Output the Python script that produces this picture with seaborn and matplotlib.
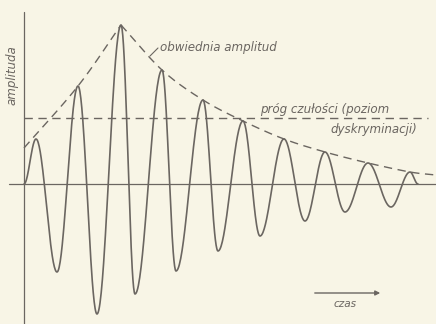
import numpy as np
import pandas as pd
import matplotlib
matplotlib.use("Agg")
import matplotlib.pyplot as plt
import seaborn as sns

# Extrema of the damped oscillation (time, amplitude)
peak_t = [1.2, 5.4, 9.7, 13.8, 17.9, 21.9, 26.0, 30.1, 34.4, 38.6]
peak_a = [4.5, 9.8, 15.9, 11.4, 8.4, 6.3, 4.5, 3.2, 2.1, 1.2]
trough_t = [3.3, 7.3, 11.1, 15.2, 19.4, 23.6, 28.1, 32.1, 36.7]
trough_a = [-8.8, -13.0, -11.0, -8.7, -6.7, -5.2, -3.7, -2.8, -2.3]
start_t, end_t = 0.0, 39.4

# Amplitude envelope: rising and decaying branches
env_rise_t = [0.0, 5.4, 9.7]
env_rise_a = [3.6, 9.8, 15.9]
env_fall_t = [9.7, 13.8, 17.9, 21.9, 26.0, 30.1, 34.4, 38.6, 41.2]
env_fall_a = [15.9, 11.4, 8.4, 6.3, 4.5, 3.2, 2.1, 1.2, 0.9]

# Sensitivity threshold (discrimination level)
threshold = 6.6

INK = "#6b6661"
PAPER = "#f8f5e6"


def wave_through(knots_t, knots_a, n=40):
    """Half-cosine segments joining successive extrema."""
    ts, as_ = [], []
    for (t0, a0), (t1, a1) in zip(zip(knots_t[:-1], knots_a[:-1]),
                                  zip(knots_t[1:], knots_a[1:])):
        u = np.linspace(0, 1, n, endpoint=False)
        ts.append(t0 + (t1 - t0) * u)
        as_.append(a0 + (a1 - a0) * (1 - np.cos(np.pi * u)) / 2)
    ts.append([knots_t[-1]])
    as_.append([knots_a[-1]])
    return np.concatenate(ts), np.concatenate(as_)


def catmull_rom(xs, ys, n=30):
    p = np.column_stack([xs, ys]).astype(float)
    p = np.vstack([2 * p[0] - p[1], p, 2 * p[-1] - p[-2]])
    out = []
    for i in range(1, len(p) - 2):
        p0, p1, p2, p3 = p[i - 1], p[i], p[i + 1], p[i + 2]
        u = np.linspace(0, 1, n, endpoint=False)[:, None]
        out.append(0.5 * ((2 * p1) + (-p0 + p2) * u
                          + (2 * p0 - 5 * p1 + 4 * p2 - p3) * u ** 2
                          + (-p0 + 3 * p1 - 3 * p2 + p3) * u ** 3))
    out.append(p[-2][None, :])
    out = np.vstack(out)
    return out[:, 0], out[:, 1]


# Ordered knots: start, alternating peaks and troughs, end
knots_t = [start_t]
knots_a = [0.0]
for i in range(len(peak_t)):
    knots_t.append(peak_t[i]); knots_a.append(peak_a[i])
    if i < len(trough_t):
        knots_t.append(trough_t[i]); knots_a.append(trough_a[i])
knots_t.append(end_t); knots_a.append(0.0)

wt, wa = wave_through(knots_t, knots_a)
signal = pd.DataFrame({"czas": wt, "amplituda": wa})

rt, ra = catmull_rom(env_rise_t, env_rise_a)
ft, fa = catmull_rom(env_fall_t, env_fall_a)
env_rise = pd.DataFrame({"czas": rt, "amplituda": ra})
env_fall = pd.DataFrame({"czas": ft, "amplituda": fa})

sns.set_style("white")
plt.rcParams["font.family"] = ["DejaVu Sans"]

fig = plt.figure(figsize=(4.36, 3.24), dpi=100, facecolor=PAPER)
ax = fig.add_axes([0, 0, 1, 1])
ax.set_facecolor(PAPER)
ax.set_xlim(-2.4, 41.2)
ax.set_ylim(-14.0, 18.4)
ax.axis("off")

# Axes of the diagram
ax.plot([0, 0], [17.2, -14.0], color=INK, lw=0.9)
ax.plot([-1.5, 41.2], [0, 0], color=INK, lw=0.9)

# Signal
sns.lineplot(data=signal, x="czas", y="amplituda", sort=False,
             color=INK, lw=1.2, ax=ax)

# Envelope
for env in (env_rise, env_fall):
    sns.lineplot(data=env, x="czas", y="amplituda", sort=False,
                 color=INK, lw=1.0, ax=ax, dashes=False,
                 linestyle=(0, (6, 4)))

# Threshold
ax.plot([0, 40.4], [threshold, threshold], color=INK, lw=1.0,
        linestyle=(0, (6, 4)))

txt = dict(color=INK, fontsize=8.6, style="italic")
ax.text(-1.2, 10.9, "amplituda", rotation=90, ha="center", va="center", **txt)
ax.text(13.6, 13.6, "obwiednia amplitud", ha="left", va="center", **txt)
ax.plot([12.6, 13.4], [12.8, 13.6], color=INK, lw=0.8)
ax.text(23.6, 7.4, "próg czułości (poziom", ha="left", va="center", **txt)
ax.text(30.6, 5.5, "dyskryminacji)", ha="left", va="center", **txt)

ax.annotate("", xy=(35.9, -10.9), xytext=(28.8, -10.9),
            arrowprops=dict(arrowstyle="-|>", color=INK, lw=1.0,
                            mutation_scale=7))
ax.text(32.1, -12.0, "czas", ha="center", va="center",
        color=INK, fontsize=7.6, style="italic")

ax.set_xlabel("")
ax.set_ylabel("")
fig.savefig("out.png", dpi=100, facecolor=PAPER)
